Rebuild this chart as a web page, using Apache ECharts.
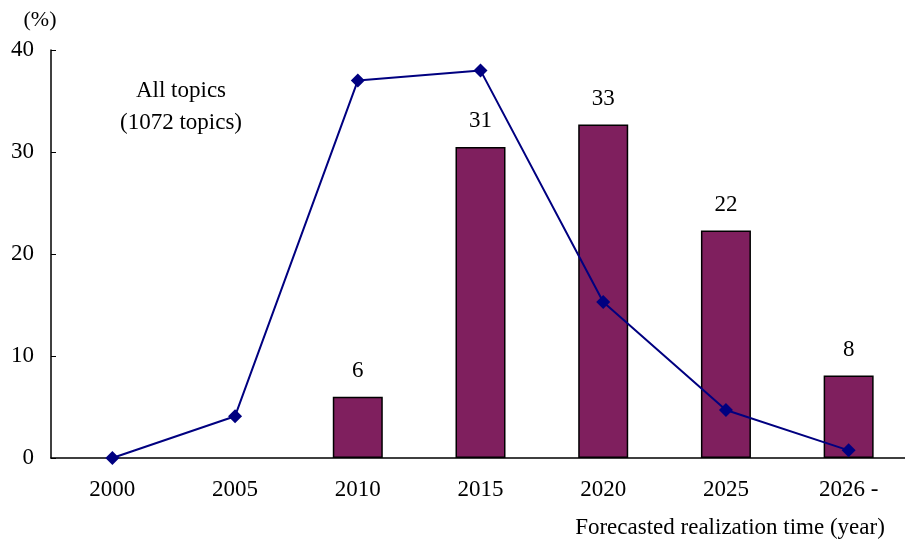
<!DOCTYPE html>
<html><head><meta charset="utf-8">
<script src="https://cdn.jsdelivr.net/npm/echarts@6/dist/echarts.min.js"></script>
<style>html,body{margin:0;padding:0;background:#fff;overflow:hidden}#c{width:915px;height:540px}</style>
</head><body><div id="c"></div>
<script>
var categories = ['2000','2005','2010','2015','2020','2025','2026 -'];
var barValues = [null, null, 6.0, 30.5, 32.7, 22.3, 8.1];
var barLabels = ['', '', '6', '31', '33', '22', '8'];
var lineValues = [0, 4.1, 37.0, 38.0, 15.3, 4.7, 0.75];
var yTicks = [0, 10, 20, 30, 40];

var font = 'Liberation Serif';
var chart = echarts.init(document.getElementById('c'));
chart.setOption({
  animation: false,
  backgroundColor: '#fff',
  textStyle: {fontFamily: font},
  graphic: [
    {type:'text', x:40, y:20, style:{text:'(%)', font:'22px "Liberation Serif"', fill:'#000', align:'center', verticalAlign:'middle'}},
    {type:'text', x:181, y:91, style:{text:'All topics', font:'23px "Liberation Serif"', fill:'#000', align:'center', verticalAlign:'middle'}},
    {type:'text', x:181, y:123, style:{text:'(1072 topics)', font:'23px "Liberation Serif"', fill:'#000', align:'center', verticalAlign:'middle'}},
    {type:'text', x:730, y:528, style:{text:'Forecasted realization time (year)', font:'23px "Liberation Serif"', fill:'#000', align:'center', verticalAlign:'middle'}}
  ],
  grid: {left: 51, top: 50, width: 859, height: 408},
  xAxis: {
    type: 'category',
    data: categories,
    boundaryGap: true,
    axisLine: {lineStyle: {color: '#000', width: 1.5}},
    axisTick: {inside: true, length: 5, lineStyle: {color: '#000'}},
    axisLabel: {color: '#000', fontSize: 23, fontFamily: font, margin: 20}
  },
  yAxis: {
    type: 'value',
    min: yTicks[0], max: yTicks[yTicks.length-1], interval: 10,
    splitLine: {show: false},
    axisLine: {show: true, lineStyle: {color: '#000', width: 1.5}},
    axisTick: {show: true, inside: true, length: 5, lineStyle: {color: '#000'}},
    axisLabel: {color: '#000', fontSize: 23, fontFamily: font, margin: 17}
  },
  series: [
    {
      type: 'bar',
      data: barValues,
      barWidth: 50,
      itemStyle: {color: '#7F1F5E', borderColor: '#000', borderWidth: 1.5},
      label: {
        show: true, position: 'top', distance: 14, color: '#000', fontSize: 23, fontFamily: font,
        formatter: function(p){ return barLabels[p.dataIndex]; }
      },
      z: 2
    },
    {
      type: 'line',
      data: lineValues,
      symbol: 'diamond',
      symbolSize: 14,
      lineStyle: {color: '#000080', width: 2},
      itemStyle: {color: '#000080'},
      z: 3
    }
  ]
});
</script></body></html>
